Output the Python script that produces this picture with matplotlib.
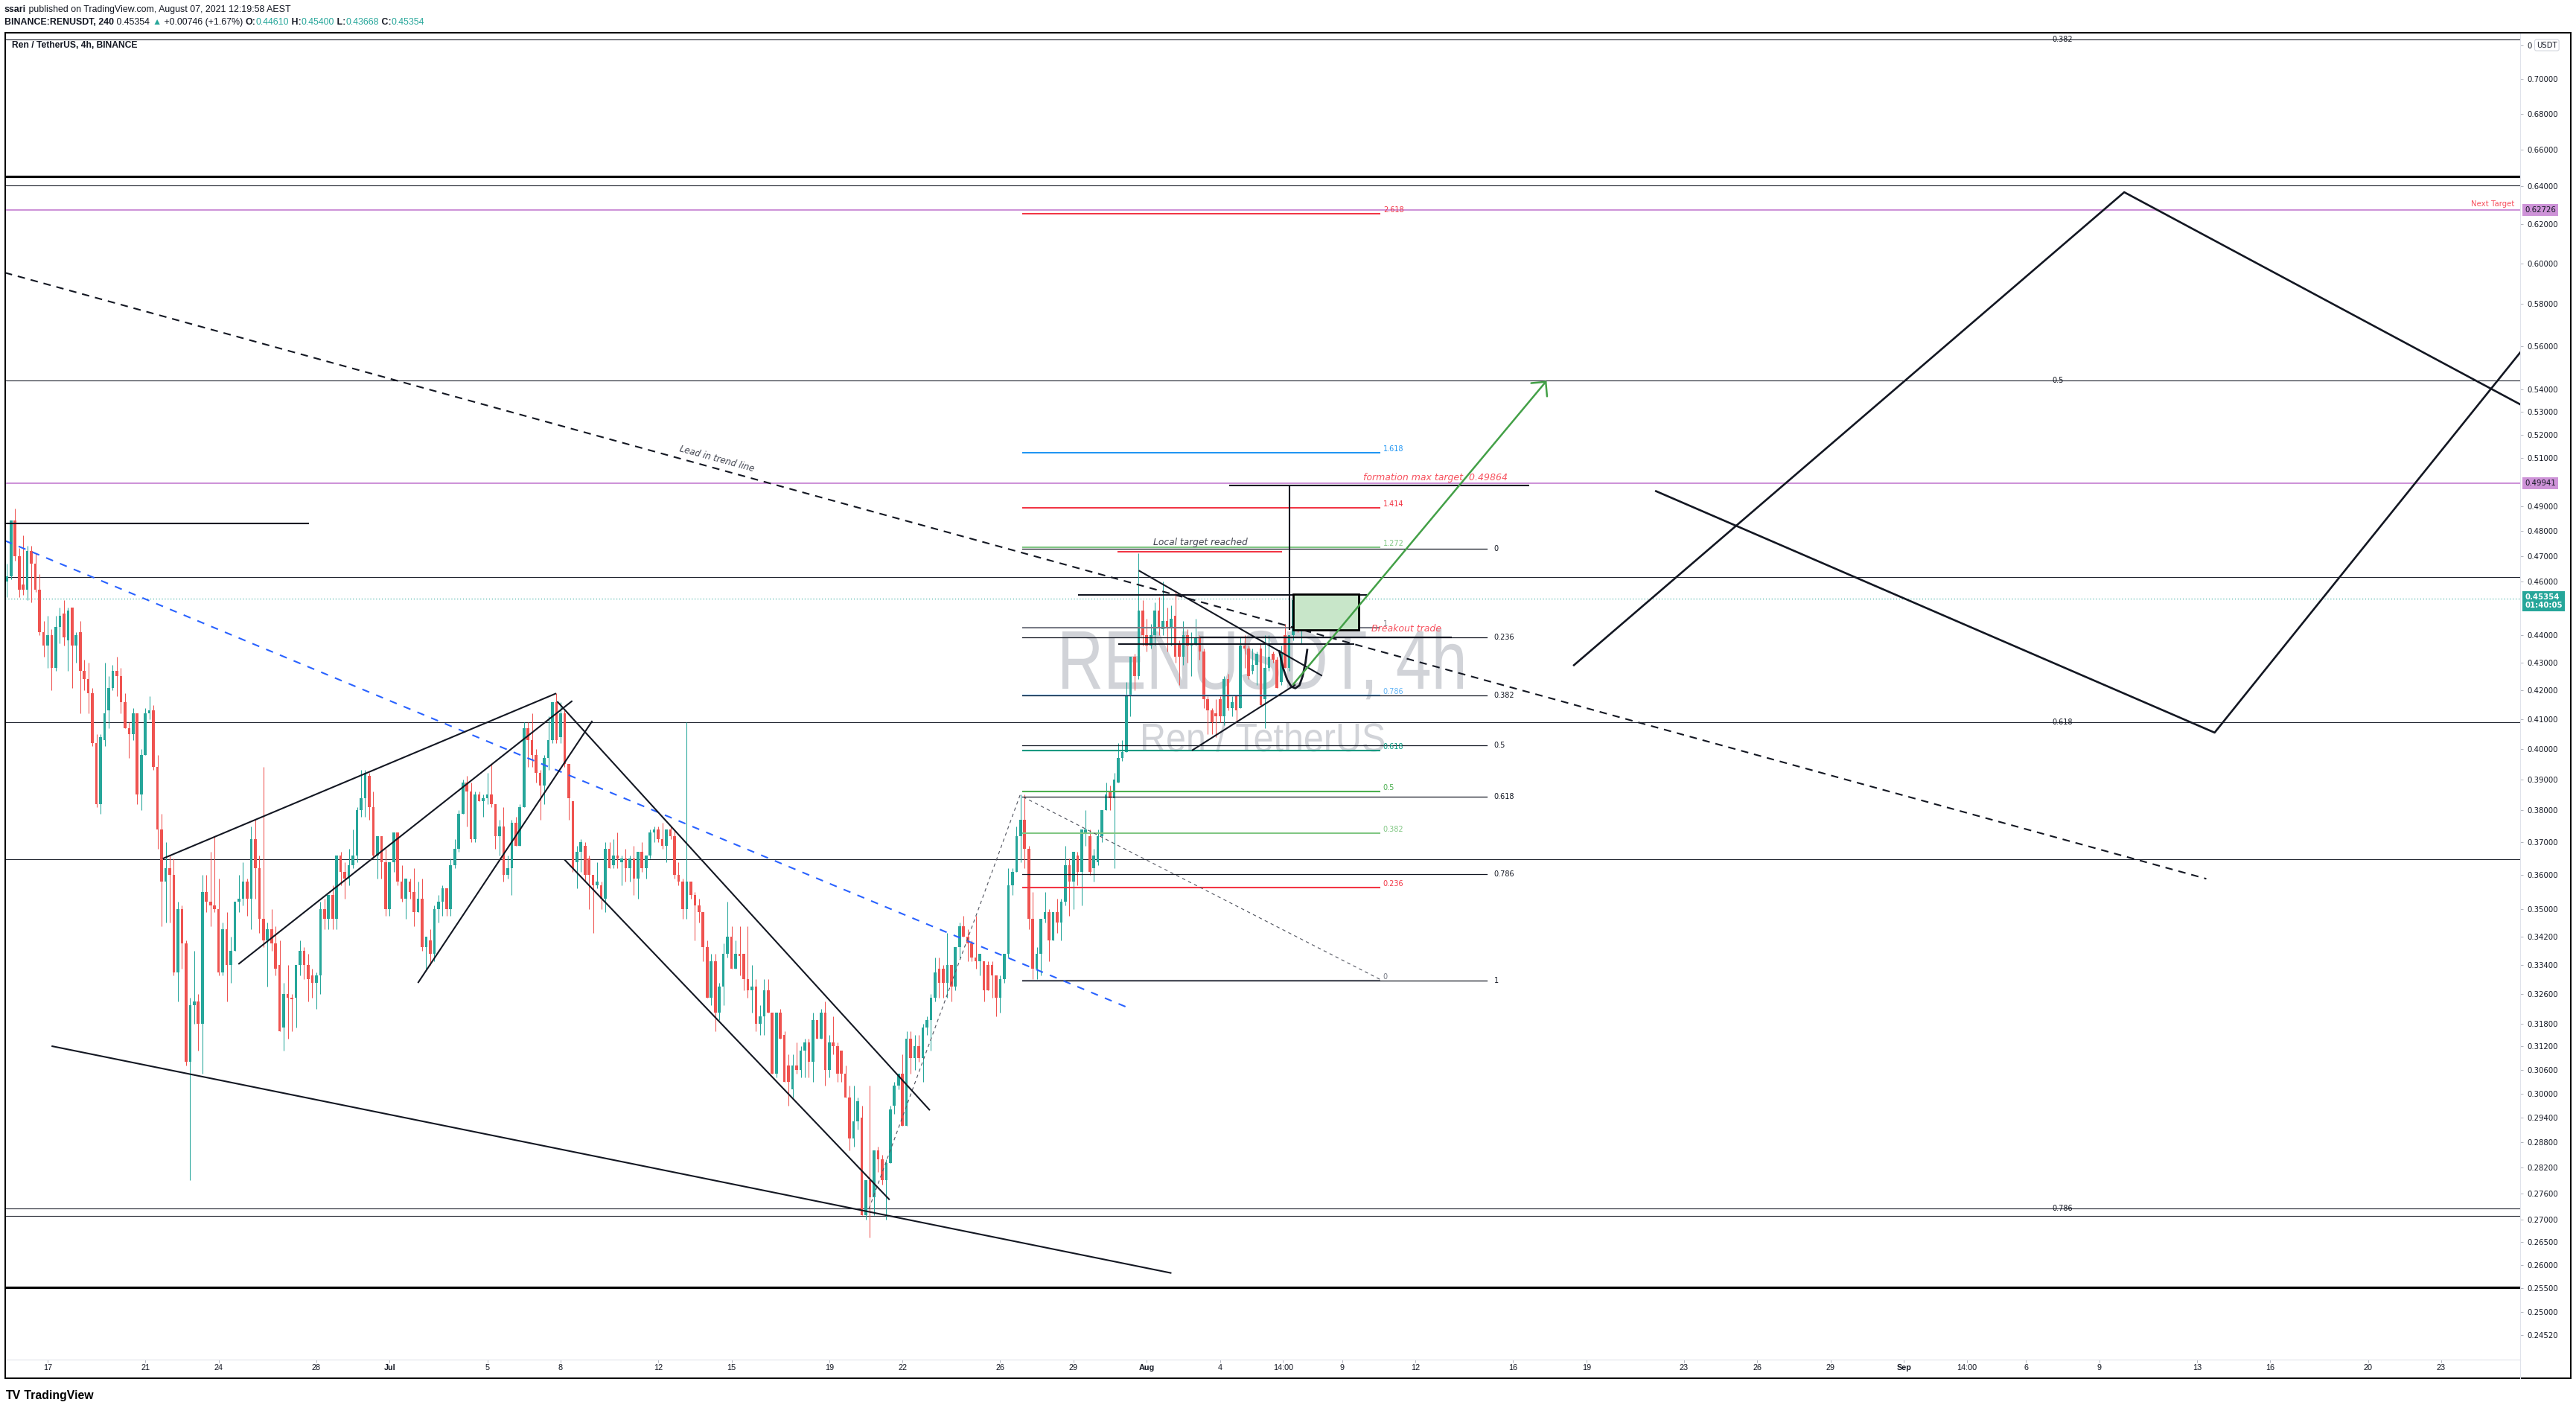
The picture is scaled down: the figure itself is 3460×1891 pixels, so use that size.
import numpy as np
import pandas as pd
import matplotlib
matplotlib.use("Agg")
import matplotlib.pyplot as plt
import matplotlib.transforms as mtransforms
from matplotlib import font_manager
from matplotlib.font_manager import FontProperties
from matplotlib.lines import Line2D
from matplotlib.patches import Rectangle, PathPatch
from matplotlib.textpath import TextPath
from matplotlib.ticker import NullLocator, NullFormatter

# ------------------------------------------------------------------ data
# RENUSDT 4h candles, first bar 2021-06-15 08:00
first_candle = "2021-06-15 08:00"
candle_open = [
    .460, .462, .484, .470, .459, .457, .472, .467, .457, .441,
    .436, .440, .428, .443, .448, .438, .450, .436, .441, .427,
    .424, .419, .402, .382, .403, .413, .421, .427, .425, .416,
    .407, .405, .412, .385, .398, .412, .413, .394, .374, .358,
    .362, .360, .332, .350, .340, .308, .323, .324, .318, .355,
    .352, .351, .350, .332, .344, .334, .338, .352, .353, .358,
    .353, .371, .362, .347, .341, .344, .340, .334, .317, .326,
    .325, .325, .334, .338, .334, .331, .329, .331, .350, .347,
    .354, .347, .366, .361, .359, .363, .366, .380, .384, .391,
    .381, .366, .372, .364, .350, .364, .373, .358, .353, .358,
    .355, .349, .353, .339, .341, .337, .350, .352, .356, .350,
    .363, .368, .379, .389, .386, .371, .385, .383, .384, .385,
    .382, .372, .375, .360, .362, .376, .369, .381, .407, .403,
    .398, .392, .388, .397, .403, .416, .404, .412, .395, .383,
    .364, .367, .369, .365, .360, .357, .357, .353, .368, .363,
    .366, .364, .365, .362, .365, .359, .367, .362, .366, .373,
    .374, .371, .369, .374, .372, .360, .358, .350, .358, .354,
    .351, .349, .339, .325, .335, .321, .328, .337, .342, .333,
    .337, .337, .330, .327, .328, .318, .320, .327, .321, .305,
    .321, .315, .307, .301, .307, .306, .311, .313, .308, .319,
    .314, .321, .306, .313, .312, .311, .305, .299, .289, .293,
    .294, .271, .279, .275, .286, .284, .279, .283, .297, .302,
    .305, .292, .314, .309, .312, .309, .317, .319, .325, .333,
    .333, .329, .334, .328, .339, .345, .342, .340, .336, .335,
    .335, .334, .334, .331, .325, .330, .337, .357, .361, .372,
    .377, .368, .347, .333, .337, .347, .349, .341, .349, .346,
    .352, .363, .358, .366, .361, .373, .372, .362, .364, .372,
    .380, .386, .384, .389, .397, .399, .418, .432, .425, .449,
    .440, .436, .440, .449, .442, .445, .443, .447, .437, .432,
    .440, .436, .437, .439, .434, .417, .413, .412, .417, .411,
    .424, .414, .418, .414, .436, .435, .427, .429, .435, .417,
    .428, .433, .431, .423, .440, .428, .440, .453, .4461,
]
candle_high = [
    .467, .484, .489, .473, .478, .474, .474, .471, .463, .445,
    .447, .442, .447, .450, .453, .450, .450, .441, .445, .431,
    .430, .421, .405, .405, .430, .425, .429, .432, .428, .419,
    .409, .414, .412, .400, .414, .418, .415, .398, .379, .370,
    .366, .365, .352, .351, .341, .325, .338, .326, .360, .360,
    .367, .372, .359, .346, .349, .342, .352, .360, .364, .359,
    .375, .377, .366, .394, .346, .350, .345, .341, .329, .334,
    .326, .334, .341, .339, .337, .333, .332, .352, .353, .354,
    .357, .366, .367, .364, .368, .374, .381, .393, .393, .392,
    .386, .372, .372, .368, .364, .373, .373, .363, .359, .359,
    .362, .358, .359, .342, .344, .351, .354, .357, .356, .365,
    .371, .380, .390, .391, .389, .386, .386, .385, .392, .395,
    .382, .377, .381, .366, .377, .378, .382, .409, .409, .412,
    .400, .393, .398, .411, .416, .419, .416, .413, .395, .383,
    .369, .371, .370, .366, .360, .364, .358, .370, .370, .371,
    .373, .366, .368, .366, .369, .367, .370, .366, .374, .375,
    .375, .376, .374, .375, .374, .364, .359, .409, .358, .355,
    .353, .349, .341, .337, .337, .329, .340, .352, .345, .341,
    .345, .337, .345, .334, .330, .323, .330, .330, .321, .321,
    .322, .316, .310, .310, .313, .312, .314, .314, .321, .319,
    .322, .324, .315, .320, .313, .311, .307, .302, .302, .299,
    .297, .279, .302, .286, .287, .285, .284, .297, .303, .305,
    .310, .316, .316, .315, .315, .318, .320, .326, .336, .336,
    .334, .343, .334, .339, .346, .348, .344, .341, .348, .337,
    .335, .335, .335, .331, .331, .337, .362, .362, .375, .385,
    .385, .369, .355, .339, .347, .355, .350, .349, .353, .353,
    .369, .365, .367, .367, .374, .380, .374, .368, .374, .380,
    .389, .388, .392, .402, .403, .423, .432, .433, .471, .453,
    .446, .444, .452, .454, .460, .450, .451, .456, .438, .445,
    .442, .441, .446, .440, .435, .418, .414, .417, .418, .425,
    .426, .418, .418, .439, .440, .436, .435, .434, .437, .440,
    .440, .434, .432, .436, .444, .440, .454, .454, .4540,
]
candle_low = [
    .454, .461, .468, .454, .455, .453, .452, .456, .440, .432,
    .428, .420, .427, .437, .436, .427, .421, .430, .412, .420,
    .412, .401, .381, .379, .401, .407, .420, .418, .412, .407,
    .397, .403, .382, .380, .398, .410, .393, .368, .345, .346,
    .346, .331, .324, .333, .307, .279, .318, .311, .305, .349,
    .345, .349, .331, .331, .324, .329, .338, .349, .351, .348,
    .344, .353, .343, .339, .328, .338, .331, .316, .311, .314,
    .316, .317, .331, .330, .324, .325, .322, .326, .344, .344,
    .344, .344, .357, .353, .357, .362, .364, .378, .378, .377,
    .365, .359, .359, .348, .348, .361, .357, .352, .347, .353,
    .345, .349, .338, .333, .334, .335, .346, .348, .348, .348,
    .362, .367, .379, .375, .370, .370, .383, .378, .382, .381,
    .368, .366, .358, .359, .354, .369, .369, .381, .394, .394,
    .389, .377, .382, .393, .402, .402, .402, .394, .377, .361,
    .356, .361, .358, .350, .343, .356, .350, .349, .362, .362,
    .362, .357, .358, .358, .354, .353, .361, .359, .365, .370,
    .370, .368, .364, .371, .359, .357, .347, .347, .353, .341,
    .346, .335, .325, .323, .316, .319, .323, .336, .333, .333,
    .331, .327, .325, .321, .316, .315, .315, .321, .305, .304,
    .314, .303, .297, .299, .305, .304, .304, .304, .303, .314,
    .314, .302, .304, .310, .303, .303, .299, .286, .287, .291,
    .271, .270, .266, .271, .281, .278, .270, .283, .295, .301,
    .292, .292, .305, .306, .308, .303, .315, .311, .324, .325,
    .325, .325, .324, .327, .336, .342, .335, .335, .333, .331,
    .324, .327, .325, .320, .321, .329, .336, .354, .361, .364,
    .362, .344, .330, .330, .331, .346, .335, .341, .343, .341,
    .351, .348, .350, .357, .351, .369, .360, .358, .363, .370,
    .380, .380, .362, .389, .396, .399, .411, .420, .424, .436,
    .434, .435, .436, .440, .440, .434, .436, .430, .422, .429,
    .430, .425, .436, .431, .414, .405, .405, .404, .409, .408,
    .413, .411, .409, .414, .428, .424, .426, .422, .415, .407,
    .427, .430, .421, .422, .428, .427, .438, .441, .43668,
]
candle_close = [
    .462, .484, .470, .457, .457, .472, .467, .457, .441, .436,
    .440, .428, .443, .447, .439, .449, .436, .440, .427, .424,
    .419, .402, .382, .404, .412, .421, .427, .425, .416, .407,
    .405, .412, .385, .398, .412, .413, .394, .374, .358, .362,
    .360, .332, .350, .340, .308, .323, .324, .318, .355, .352,
    .351, .350, .332, .344, .334, .338, .352, .353, .358, .353,
    .371, .362, .347, .341, .344, .340, .333, .316, .326, .325,
    .3245, .334, .338, .334, .330, .329, .331, .350, .347, .354,
    .347, .366, .361, .359, .363, .366, .380, .384, .392, .381,
    .366, .372, .364, .350, .364, .373, .358, .353, .359, .355,
    .349, .353, .339, .342, .337, .350, .352, .356, .350, .363,
    .368, .379, .389, .386, .371, .385, .383, .384, .385, .382,
    .372, .375, .360, .362, .376, .369, .381, .407, .403, .398,
    .392, .388, .397, .403, .416, .403, .412, .395, .384, .362,
    .367, .370, .360, .360, .357, .358, .353, .368, .362, .366,
    .365, .365, .362, .365, .359, .367, .362, .366, .373, .374,
    .371, .369, .374, .372, .360, .358, .350, .358, .354, .351,
    .349, .339, .325, .335, .321, .328, .337, .342, .333, .337,
    .3365, .330, .327, .328, .318, .320, .327, .321, .305, .321,
    .314, .303, .303, .307, .306, .311, .313, .308, .319, .314,
    .321, .306, .313, .312, .305, .305, .299, .289, .293, .298,
    .271, .279, .275, .286, .284, .279, .283, .296, .302, .305,
    .292, .314, .309, .312, .309, .317, .319, .325, .332, .329,
    .329, .334, .328, .339, .345, .342, .340, .336, .335, .337,
    .327, .327, .331, .325, .330, .337, .357, .361, .372, .377,
    .368, .347, .333, .337, .347, .349, .341, .349, .346, .352,
    .363, .358, .367, .361, .374, .374, .361, .366, .372, .380,
    .385, .384, .390, .397, .399, .418, .432, .425, .449, .440,
    .436, .440, .449, .443, .445, .443, .446, .432, .432, .440,
    .436, .437, .439, .434, .417, .413, .409, .411, .411, .424,
    .414, .416, .413, .436, .435, .425, .429, .433, .415, .428,
    .432, .431, .421, .433, .428, .440, .453, .442, .45354,
]

# price axis ticks (log scale) and time axis ticks (days after 2021-06-17)
price_ticks = [0.72, 0.70, 0.68, 0.66, 0.64, 0.62, 0.60, 0.58, 0.56, 0.54, 0.53,
               0.52, 0.51, 0.49, 0.48, 0.47, 0.46, 0.44, 0.43, 0.42, 0.41, 0.40,
               0.39, 0.38, 0.37, 0.36, 0.35, 0.342, 0.334, 0.326, 0.318, 0.312,
               0.306, 0.30, 0.294, 0.288, 0.282, 0.276, 0.27, 0.265, 0.26, 0.255,
               0.25, 0.2452]
date_ticks = [0, 4, 7, 11, 14, 18, 21, 25, 28, 32, 35, 39, 42, 45, 48, 50.58,
              53, 56, 60, 63, 67, 70, 73, 76, 78.58, 81, 84, 88, 91, 95, 98]
date_labels = ["17", "21", "24", "28", "Jul", "5", "8", "12", "15", "19", "22",
               "26", "29", "Aug", "4", "14:00", "9", "12", "16", "19", "23", "26",
               "29", "Sep", "14:00", "6", "9", "13", "16", "20", "23"]

# horizontal levels across the whole pane
full_levels = [0.7235, 0.6405, 0.5440, 0.4619, 0.4090, 0.3649, 0.2725, 0.2709]
thick_levels = [0.6451, 0.2551]
big_fib_prices = [0.7235, 0.5440, 0.4090, 0.2725]
big_fib_labels = ["0.382", "0.5", "0.618", "0.786"]

# trend based fib extension (coloured) and retracement (black)
ext_labels = ["0", "0.236", "0.382", "0.5", "0.618", "0.786", "1", "1.272", "1.414", "1.618", "2.618"]
ext_prices = [0.3296, 0.3563, 0.3728, 0.3861, 0.3994, 0.4184, 0.4426, 0.4733, 0.4894, 0.5124, 0.6254]
ext_colors = ["#787b86", "#f23645", "#81c784", "#4caf50", "#089981", "#64b5f6",
              "#787b86", "#81c784", "#f23645", "#2196f3", "#f23645"]
ext_span = [39.89, 54.55]
ret_labels = ["0", "0.236", "0.382", "0.5", "0.618", "0.786", "1"]
ret_prices = [0.4729, 0.4391, 0.4182, 0.4013, 0.3843, 0.3602, 0.3296]
ret_span = [39.89, 58.92]
fib_anchor_path = [(33.63, 0.2725), (39.81, 0.3848), (54.66, 0.3296)]

# drawn trend lines (day, price)
lead_trend = [(-1.75, 0.5954), (88.38, 0.3589)]
blue_trend = [(-1.75, 0.4760), (44.33, 0.3220)]
solid_lines = [
    [(-1.75, 0.4830), (10.70, 0.4830)],
    [(4.715, 0.3650), (20.82, 0.4190)],
    [(7.81, 0.3342), (21.48, 0.4164)],
    [(15.16, 0.3290), (22.30, 0.4095)],
    [(20.86, 0.4162), (36.12, 0.2958)],
    [(21.16, 0.3647), (34.47, 0.2745)],
    [(0.16, 0.3121), (46.01, 0.2582)],
    [(44.67, 0.4643), (52.18, 0.4252)],
    [(46.85, 0.3995), (51.09, 0.4221)],
    [(42.19, 0.4549), (54.00, 0.4549)],
    [(47.20, 0.4390), (57.50, 0.4390)],
    [(43.83, 0.4365), (53.50, 0.4365)],
    [(48.36, 0.4986), (60.67, 0.4986)],
    [(50.84, 0.4418), (50.84, 0.4986)],
]
zigzag_a = [(62.49, 0.4290), (85.02, 0.6368), (101.23, 0.5334)]
zigzag_b = [(65.85, 0.4961), (88.72, 0.4055), (101.23, 0.5570)]
hook = [(50.43, 0.4340), (50.58, 0.4280), (50.75, 0.4238), (50.92, 0.4214),
        (51.08, 0.4208), (51.25, 0.4218), (51.38, 0.4250), (51.50, 0.4300), (51.57, 0.4345)]
local_target = [(43.84, 0.4715), (50.51, 0.4715)]
trade_box = [(50.99, 0.4418), (53.68, 0.4552)]
trade_arrow = [(50.99, 0.4221), (61.37, 0.5440)]
next_target = 0.62726
formation_target = 0.49941
last_price = 0.45354

# ------------------------------------------------------------------ figure
W, H = 3460, 1891
UP, DOWN, INK = "#26a69a", "#ef5350", "#131722"
available = {f.name for f in font_manager.fontManager.ttflist}
SANS = "Liberation Sans" if "Liberation Sans" in available else "DejaVu Sans"

fig = plt.figure(figsize=(W / 100, H / 100), dpi=100)
fig.patch.set_facecolor("white")
pane_l, pane_r, pane_t, pane_b = 7, 3385, 44, 1826
ax = fig.add_axes([pane_l / W, 1 - pane_b / H, (pane_r - pane_l) / W, (pane_b - pane_t) / H])
ax.set_yscale("log")

# watermark (scaled glyph outlines so the box matches the screenshot)
def watermark(text, x0, x1, cap_top, baseline, color):
    fp = FontProperties(family=SANS)
    tp = TextPath((0, 0), text, size=100, prop=fp)
    cap = TextPath((0, 0), "H", size=100, prop=fp).get_extents().height
    ext = tp.get_extents()
    sx = (x1 - x0) / ext.width
    sy = (baseline - cap_top) / cap
    tr = mtransforms.Affine2D().translate(-ext.x0, 0).scale(sx, sy).translate(x0, H - baseline)
    ax.add_patch(PathPatch(tp, transform=tr, facecolor=color, edgecolor="none", zorder=0.5))

watermark("RENUSDT, 4h", 1427, 1965, 848, 925, "#d1d3d8")
watermark("Ren / TetherUS", 1535, 1859, 972, 1009, "#d1d3d8")

# full width horizontal levels
for p in full_levels:
    ax.axhline(p, color="#1e222d", lw=0.8, zorder=2)
for p in thick_levels:
    ax.axhline(p, color="#000000", lw=2.3, zorder=2)
for p, lab in zip(big_fib_prices, big_fib_labels):
    ax.text(82.06, p, lab, fontsize=7, color=INK, va="center", ha="left", zorder=5)
ax.axhline(next_target, color="#ce93d8", lw=1.5, zorder=2)
ax.axhline(formation_target, color="#ce93d8", lw=1.5, zorder=2)
ax.axhline(last_price, color=UP, lw=0.8, ls=(0, (1, 2.5)), zorder=2)

# candles
t = (pd.date_range(first_candle, periods=len(candle_open), freq="4h")
     - pd.Timestamp("2021-06-17")) / pd.Timedelta("1D")
o, h, l, c = (np.array(a) for a in (candle_open, candle_high, candle_low, candle_close))
col = np.where(c >= o, UP, DOWN)
ax.vlines(t, l, h, colors=col, lw=0.75, zorder=3)
ax.bar(t, np.maximum(np.abs(c - o), 0.0005), bottom=np.minimum(o, c), width=0.11,
       color=col, linewidth=0, zorder=3)

# fib tools
for p, lab, cl in zip(ext_prices, ext_labels, ext_colors):
    ax.plot(ext_span, [p, p], color=cl, lw=1.5, zorder=4, solid_capstyle="butt")
    ax.text(ext_span[1] + 0.13, p, lab, fontsize=7, color=cl, ha="left", va="bottom", zorder=5)
for p, lab in zip(ret_prices, ret_labels):
    ax.plot(ret_span, [p, p], color=INK, lw=0.9, zorder=4)
    ax.text(ret_span[1] + 0.3, p, lab, fontsize=7, color=INK, ha="left", va="center", zorder=5)
ax.plot(*zip(*fib_anchor_path), color="#50535e", lw=0.8, ls=(0, (4, 4)), zorder=4)

# drawings
ax.plot(*zip(*lead_trend), color="#131722", lw=1.5, ls=(0, (4.8, 3.8)), zorder=4)
ax.plot(*zip(*blue_trend), color="#2962ff", lw=1.5, ls=(0, (4.8, 4.8)), zorder=4)
for seg in solid_lines:
    ax.plot(*zip(*seg), color="#131722", lw=1.5, zorder=4, solid_capstyle="butt")
ax.plot(*zip(*zigzag_a), color="#131722", lw=1.9, zorder=4)
ax.plot(*zip(*zigzag_b), color="#131722", lw=1.9, zorder=4)
ax.plot(*zip(*hook), color="#131722", lw=2.0, zorder=4)
ax.plot(*zip(*local_target), color="#f23645", lw=1.5, zorder=4)
(bx0, by0), (bx1, by1) = trade_box
ax.add_patch(Rectangle((bx0, by0), bx1 - bx0, by1 - by0, facecolor="#c8e6c9",
                       edgecolor="#000000", lw=2.0, zorder=4))
ax.annotate("", xy=trade_arrow[1], xytext=trade_arrow[0],
            arrowprops=dict(arrowstyle="->,head_length=1.0,head_width=1.0", color="#43a047",
                            lw=1.8, mutation_scale=10, shrinkA=0, shrinkB=0), zorder=5)

# annotations
ax.text(27.4, 0.5096, "Lead in trend line", rotation=-15.4, rotation_mode="anchor",
        ha="center", va="center", style="italic", fontsize=8.5, color="#434651", zorder=5)
ax.text(47.19, 0.4752, "Local target reached", ha="center", va="center", style="italic",
        fontsize=8.8, color="#434651", zorder=5)
ax.annotate("formation max target  0.49864", xy=(53.86, 0.4986), xytext=(0, 4),
            textcoords="offset pixels", ha="left", va="bottom", style="italic",
            fontsize=9, color="#f7525f", zorder=5)
ax.text(54.2, 0.4421, "Breakout trade", ha="left", va="center", style="italic",
        fontsize=9, color="#f7525f", zorder=5)
ax.annotate("Next Target", xy=(101.0, next_target), xytext=(0, 3), textcoords="offset pixels",
            ha="right", va="bottom", fontsize=7.3, color="#f7525f", zorder=5)

# axes styling; the top tick is mostly covered by the currency box, only its "0" shows
ax.set_xlim(-1.737, 101.23)
ax.set_ylim(0.2402, 0.7275)
ax.yaxis.tick_right()
ax.set_yticks(price_ticks)
ax.set_yticklabels(["0"] + [f"{p:.5f}" for p in price_ticks[1:]])
ax.yaxis.set_minor_locator(NullLocator())
ax.yaxis.set_minor_formatter(NullFormatter())
ax.set_xticks(date_ticks)
ax.set_xticklabels(date_labels)
for lbl in ax.get_xticklabels():
    lbl.set_family(SANS)
    if lbl.get_text() in ("Jul", "Aug", "Sep"):
        lbl.set_fontweight("bold")
ax.tick_params(axis="y", length=3, width=0.7, color="#b2b5be", pad=4,
               labelsize=7.3, labelcolor=INK)
ax.tick_params(axis="x", length=3, width=0.7, color="#b2b5be", pad=1.5,
               labelsize=7.8, labelcolor=INK)
for side in ("top", "left"):
    ax.spines[side].set_visible(False)
for side in ("right", "bottom"):
    ax.spines[side].set_color("#e0e3eb")
    ax.spines[side].set_linewidth(0.8)

# price tags on the axis
def price_tag(price, label, face, ink, dy=0, va="center", weight="normal"):
    ax.annotate(label, xy=(1, price), xycoords=("axes fraction", "data"), xytext=(6, dy),
                textcoords="offset pixels", ha="left", va=va, fontsize=7.3, color=ink,
                fontweight=weight, linespacing=1.15,
                bbox=dict(boxstyle="square,pad=0.3", fc=face, ec="none"),
                annotation_clip=False, zorder=6)

price_tag(next_target, f"{next_target:.5f}", "#ce93d8", INK)
price_tag(formation_target, f"{formation_target:.5f}", "#ce93d8", INK)
price_tag(last_price, f"{last_price:.5f}\n01:40:05", UP, "white", dy=7, va="top", weight="bold")
ax.annotate("USDT", xy=(1, 0.72), xycoords=("axes fraction", "data"), xytext=(22, 0),
            textcoords="offset pixels", ha="left", va="center", fontsize=7.3, color=INK,
            bbox=dict(boxstyle="round,pad=0.25", fc="white", ec="#d1d4dc", lw=0.8),
            annotation_clip=False, zorder=6)

# frame and separators
fig.add_artist(Line2D([pane_r / W, pane_r / W], [1 - 1851 / H, 1 - pane_b / H],
                      color="#e0e3eb", lw=0.8))
fig.add_artist(Rectangle((7 / W, 1 - 1851 / H), (3453 - 7) / W, (1851 - 44) / H,
                         fill=False, edgecolor="#000000", lw=1.4, transform=fig.transFigure))

# header and footer texts, fitted to the widths seen in the screenshot
renderer = fig.canvas.get_renderer()

def text_runs(x_px, y_px, runs, width_px):
    def put(size):
        arts, x = [], x_px
        for s, color, weight in runs:
            a = fig.text(x / W, 1 - y_px / H, s, fontsize=size, color=color,
                         fontweight=weight, family=[SANS, "DejaVu Sans"], va="baseline")
            arts.append(a)
            x += a.get_window_extent(renderer).width
        return arts, x - x_px
    arts, w = put(10)
    for a in arts:
        a.remove()
    put(10 * width_px / w)

text_runs(6, 16, [("ssari", INK, "bold"),
                  (" published on TradingView.com, August 07, 2021 12:19:58 AEST", INK, "normal")], 383)
text_runs(6, 33, [("BINANCE:RENUSDT, 240", INK, "bold"), (" 0.45354 ", INK, "normal"),
                  ("\u25b2", UP, "normal"), (" +0.00746 (+1.67%) ", INK, "normal"),
                  ("O:", INK, "bold"), ("0.44610", UP, "normal"), (" H:", INK, "bold"),
                  ("0.45400", UP, "normal"), (" L:", INK, "bold"), ("0.43668", UP, "normal"),
                  (" C:", INK, "bold"), ("0.45354", UP, "normal")], 563)
text_runs(16, 64, [("Ren / TetherUS, 4h, BINANCE", INK, "bold")], 168)
text_runs(8, 1879, [("TV", "#000000", "heavy"), (" TradingView", "#000000", "bold")], 118)

fig.savefig("out.png", dpi=100, facecolor="white")
